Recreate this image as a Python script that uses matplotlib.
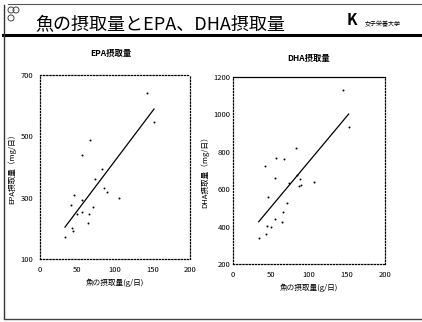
import matplotlib.pyplot as plt
from matplotlib.lines import Line2D
from matplotlib.patches import Circle

plt.rcParams['font.family'] = ['Noto Sans CJK JP', 'DejaVu Sans']

# EPA panel: fish intake (g/day) vs EPA intake (mg/day)
epa_fish = [142.7, 152, 66.7, 56, 82.7, 73.3, 85.3, 89.3, 45.3, 105,
            41.3, 56, 70.7, 49.3, 56, 65.3, 64, 42.7, 44, 33.3]
epa_val = [641, 547, 488, 439, 393, 361, 332, 318, 309, 299,
           276, 292, 270, 247, 253, 247, 217, 201, 191, 172]
epa_fit_x = [33.3, 152]
epa_fit_y = [204, 589]

# DHA panel
dha_fish = [144.3, 152.2, 82.9, 56.6, 66.7, 42.5, 55.7, 84.2, 88.6, 73.3, 106.2,
            86.4, 89.5, 46, 71, 66.2, 55.7, 64.5, 44.7, 50, 43.8, 33.8]
dha_val = [1130, 934, 822, 768, 762, 724, 658, 676, 653, 635, 637,
           617, 624, 560, 525, 480, 439, 426, 403, 400, 362, 337]
dha_fit_x = [33.8, 152.2]
dha_fit_y = [426, 1002]

W, H = 422, 322
fig = plt.figure(figsize=(W / 100, H / 100), dpi=100)


def px_axes(x0, y0, x1, y1):
    return fig.add_axes([x0 / W, 1 - y1 / H, (x1 - x0) / W, (y1 - y0) / H])


# slide decoration
deco = fig.add_axes([0, 0, 1, 1])
deco.set_xlim(0, W)
deco.set_ylim(H, 0)
deco.axis('off')
deco.add_line(Line2D([8, 422], [4, 4], color='#555555', lw=0.8))
deco.add_line(Line2D([3, 422], [35, 35], color='black', lw=2.2))
deco.add_line(Line2D([4, 4], [5, 318], color='#333333', lw=1.0))
deco.add_line(Line2D([4, 422], [319, 319], color='#444444', lw=1.0))
for cx, cy in [(11, 10), (16, 10), (11, 18)]:
    deco.add_patch(Circle((cx, cy), 3, fill=False, ec='#444444', lw=0.7))
deco.text(35, 25, '魚の摂取量とEPA、DHA摂取量', fontsize=13, va='center', ha='left')
deco.text(347, 20, 'K', fontsize=11, fontweight='bold', va='center', ha='left')
deco.text(365, 24, '女子栄養大学', fontsize=4.3, va='center', ha='left')


def panel(ax, xs, ys, fx, fy, ylabel, ylim, yticks, ypad, top_solid):
    ax.scatter(xs, ys, s=2, c='black', lw=0)
    ax.plot(fx, fy, color='black', lw=0.9)
    ax.set_xlim(0, 200)
    ax.set_ylim(*ylim)
    ax.set_xticks([0, 50, 100, 150, 200])
    ax.set_yticks(yticks)
    ax.tick_params(axis='x', labelsize=5.5, length=0, pad=5)
    ax.tick_params(axis='y', labelsize=5.5, length=0, pad=ypad)
    for s in ['left', 'right', 'bottom', 'top']:
        ax.spines[s].set_linestyle((0, (1, 1.5)))
        ax.spines[s].set_linewidth(0.9)
    if top_solid:
        ax.spines['top'].set_linestyle('-')
    ax.set_ylabel(ylabel, fontsize=5.5, labelpad=3)
    ax.set_xlabel('魚の摂取量(g/日)', fontsize=5.5, labelpad=3)


ax1 = px_axes(40, 75, 190, 259)
panel(ax1, epa_fish, epa_val, epa_fit_x, epa_fit_y,
      'EPA摂取量（mg/日）', (100, 700), [100, 300, 500, 700], 5, False)
ax1.set_title('EPA摂取量', fontsize=6, fontweight='bold', pad=14, x=0.47)

ax2 = px_axes(233, 77, 385, 264)
panel(ax2, dha_fish, dha_val, dha_fit_x, dha_fit_y,
      'DHA摂取量（mg/日）', (200, 1200), [200, 400, 600, 800, 1000, 1200], 2, True)
ax2.set_title('DHA摂取量', fontsize=6, fontweight='bold', pad=11.5)

fig.savefig('out.png', dpi=100)
